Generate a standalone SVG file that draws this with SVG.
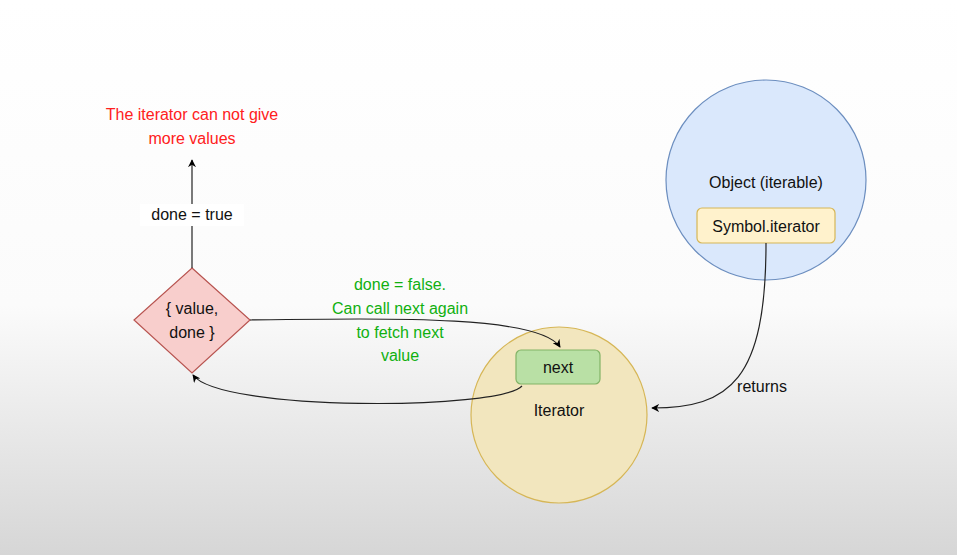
<svg xmlns="http://www.w3.org/2000/svg" width="957" height="555" viewBox="0 0 957 555">
<defs>
<linearGradient id="bg" x1="0" y1="0" x2="0" y2="1">
<stop offset="0" stop-color="#ffffff"/><stop offset="0.55" stop-color="#fbfbfb"/><stop offset="1" stop-color="#d6d6d6"/>
</linearGradient>
<marker id="ar" viewBox="0 0 10 10" refX="9" refY="5" markerWidth="8" markerHeight="8" orient="auto-start-reverse" markerUnits="userSpaceOnUse">
<path d="M0,0 L10,5 L0,10 L3,5 z" fill="#000"/>
</marker>
<style>
text{font-family:"Liberation Sans",Arial,sans-serif;font-size:16px;text-anchor:middle;fill:#111}
.red{fill:#ff2020}.grn{fill:#10b010}
.c{fill:none;stroke:#222;stroke-width:1.2}
</style>
</defs>
<rect width="957" height="555" fill="url(#bg)"/>
<g id="msg">
<text class="red" x="192" y="120">The iterator can not give</text>
<text class="red" x="192" y="144">more values</text>
</g>
<g id="falseLabel">
<text class="grn" x="400" y="290">done = false.</text>
<text class="grn" x="400" y="314">Can call next again</text>
<text class="grn" x="400" y="338">to fetch next</text>
<text class="grn" x="400" y="361">value</text>
</g>
<g id="diamond">
<polygon points="192,268 250,320 192,373 134,320" fill="#f8cecc" stroke="#b85450" stroke-width="1.2"/>
<text x="192" y="314">{ value,</text>
<text x="192" y="338">done }</text>
</g>
<g id="iterator">
<circle cx="559" cy="415" r="88" fill="#f2e6be" stroke="#d6b656" stroke-width="1.2"/>
<text x="559" y="416">Iterator</text>
</g>
<g id="next">
<rect x="516" y="350" width="84" height="34" rx="5" fill="#b9e0a5" stroke="#82b366" stroke-width="1.2"/>
<text x="558" y="373">next</text>
</g>
<g id="object">
<circle cx="766" cy="180" r="100" fill="#dae8fc" stroke="#6c8ebf" stroke-width="1.2"/>
<text x="766" y="188">Object (iterable)</text>
</g>
<g id="symbol">
<rect x="697" y="208" width="138" height="35" rx="5" fill="#fff2cc" stroke="#d6b656" stroke-width="1.2"/>
<text x="766" y="232">Symbol.iterator</text>
</g>
<g id="connectors">
<path class="c" d="M192,268 L192,160" marker-end="url(#ar)"/>
<rect x="140" y="204" width="104" height="22" fill="#fff"/>
<text x="192" y="220">done = true</text>
<path class="c" d="M250,320 C400,318 540,316 560,347" marker-end="url(#ar)"/>
<path class="c" d="M522,386 C500,410 220,412 193,375" marker-end="url(#ar)"/>
<path class="c" d="M766,243 C766,380 730,408 652,408" marker-end="url(#ar)"/>
<text x="762" y="392">returns</text>
</g>
</svg>
